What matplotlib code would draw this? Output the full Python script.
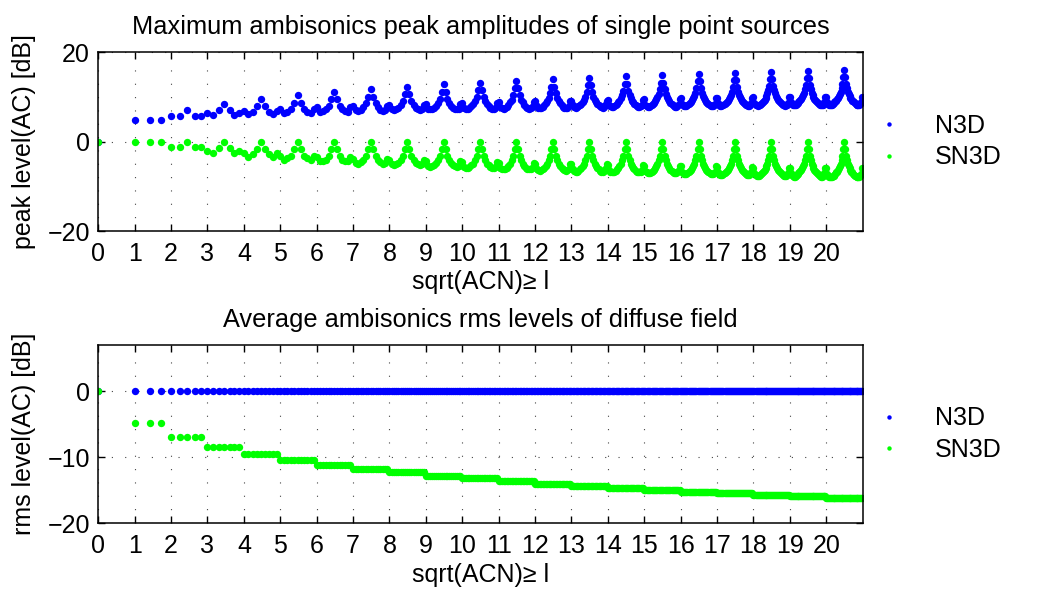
"""
Ambisonics normalisation comparison: N3D vs SN3D.

Top: maximum peak amplitude of every ACN channel for a single point source.
Bottom: average rms level of every ACN channel in a diffuse field.
"""

import numpy as np
import matplotlib
matplotlib.use("Agg")
import matplotlib.pyplot as plt

# ── data (one list per ambisonic order l) ────────────────────────────────────

CHANNELS_PER_ORDER = [1, 3, 5, 7, 9, 11, 13, 15, 17, 19, 21,
                      23, 25, 27, 29, 31, 33, 35, 37, 39, 41]

PEAK_N3D = [
    [0.0],
    [4.8, 4.8, 4.8],
    [5.7, 5.7, 7.0, 5.7, 5.7],
    [6.4, 5.9, 7.0, 8.5, 7.0, 5.9, 6.4],
    [6.9, 6.2, 6.7, 8.0, 9.5, 8.0, 6.7, 6.2, 6.9],
    [7.3, 6.5, 6.7, 7.4, 8.7, 10.4, 8.7, 7.4, 6.7, 6.5, 7.3],
    [7.7, 6.7, 6.8, 7.2, 8.0, 9.5, 11.1, 9.5, 8.0, 7.2, 6.8, 6.7, 7.7],
    [8.0, 7.0, 6.9, 7.1, 7.7, 8.6, 10.1, 11.8, 10.1, 8.6, 7.7, 7.1, 6.9, 7.0, 8.0],
    [8.3, 7.2, 7.0, 7.2, 7.5, 8.2, 9.1, 10.6, 12.3, 10.6, 9.1, 8.2, 7.5, 7.2, 7.0, 7.2, 8.3],
    [8.5, 7.4, 7.2, 7.3, 7.5, 8.0, 8.6, 9.6, 11.1, 12.8, 11.1, 9.6, 8.6, 8.0, 7.5, 7.3, 7.2, 7.4, 8.5],
    [8.7, 7.6, 7.3, 7.3, 7.5, 7.9, 8.4, 9.1, 10.0, 11.5, 13.2, 11.5, 10.0, 9.1, 8.4, 7.9, 7.5, 7.3, 7.3, 7.6, 8.7],
    [8.9, 7.8, 7.5, 7.4, 7.5, 7.8, 8.2, 8.8, 9.4, 10.4, 11.9, 13.6, 11.9, 10.4, 9.4, 8.8, 8.2, 7.8, 7.5, 7.4, 7.5, 7.8, 8.9],
    [9.1, 7.9, 7.6, 7.5, 7.6, 7.8, 8.2, 8.6, 9.1, 9.8, 10.8, 12.3, 14.0, 12.3, 10.8, 9.8, 9.1, 8.6, 8.2, 7.8, 7.6, 7.5, 7.6, 7.9, 9.1],
    [9.2, 8.1, 7.7, 7.6, 7.7, 7.9, 8.1, 8.5, 8.9, 9.4, 10.1, 11.1, 12.6, 14.3, 12.6, 11.1, 10.1, 9.4, 8.9, 8.5, 8.1, 7.9, 7.7, 7.6, 7.7, 8.1, 9.2],
    [9.4, 8.2, 7.9, 7.7, 7.7, 7.9, 8.1, 8.4, 8.8, 9.2, 9.7, 10.4, 11.4, 12.9, 14.6, 12.9, 11.4, 10.4, 9.7, 9.2, 8.8, 8.4, 8.1, 7.9, 7.7, 7.7, 7.9, 8.2, 9.4],
    [9.5, 8.3, 8.0, 7.8, 7.8, 7.9, 8.1, 8.4, 8.7, 9.0, 9.5, 10.0, 10.7, 11.7, 13.2, 14.9, 13.2, 11.7, 10.7, 10.0, 9.5, 9.0, 8.7, 8.4, 8.1, 7.9, 7.8, 7.8, 8.0, 8.3, 9.5],
    [9.7, 8.5, 8.1, 7.9, 7.9, 8.0, 8.2, 8.4, 8.6, 8.9, 9.3, 9.7, 10.3, 11.0, 12.0, 13.5, 15.2, 13.5, 12.0, 11.0, 10.3, 9.7, 9.3, 8.9, 8.6, 8.4, 8.2, 8.0, 7.9, 7.9, 8.1, 8.5, 9.7],
    [9.8, 8.6, 8.2, 8.0, 8.0, 8.1, 8.2, 8.4, 8.6, 8.8, 9.2, 9.5, 10.0, 10.5, 11.2, 12.2, 13.8, 15.4, 13.8, 12.2, 11.2, 10.5, 10.0, 9.5, 9.2, 8.8, 8.6, 8.4, 8.2, 8.1, 8.0, 8.0, 8.2, 8.6, 9.8],
    [9.9, 8.7, 8.3, 8.1, 8.0, 8.1, 8.2, 8.4, 8.6, 8.8, 9.1, 9.4, 9.8, 10.2, 10.8, 11.5, 12.4, 14.0, 15.7, 14.0, 12.4, 11.5, 10.8, 10.2, 9.8, 9.4, 9.1, 8.8, 8.6, 8.4, 8.2, 8.1, 8.0, 8.1, 8.3, 8.7, 9.9],
    [10.0, 8.8, 8.4, 8.2, 8.1, 8.2, 8.3, 8.4, 8.6, 8.8, 9.0, 9.3, 9.6, 10.0, 10.4, 11.0, 11.7, 12.7, 14.2, 15.9, 14.2, 12.7, 11.7, 11.0, 10.4, 10.0, 9.6, 9.3, 9.0, 8.8, 8.6, 8.4, 8.3, 8.2, 8.1, 8.2, 8.4, 8.8, 10.0],
    [10.1, 8.9, 8.5, 8.3, 8.2, 8.2, 8.3, 8.4, 8.6, 8.8, 9.0, 9.2, 9.5, 9.8, 10.2, 10.6, 11.2, 11.9, 12.9, 14.4, 16.1, 14.4, 12.9, 11.9, 11.2, 10.6, 10.2, 9.8, 9.5, 9.2, 9.0, 8.8, 8.6, 8.4, 8.3, 8.2, 8.2, 8.3, 8.5, 8.9, 10.1],
]

PEAK_SN3D = [
    [0.0],
    [0.0, 0.0, 0.0],
    [-1.2, -1.2, 0.0, -1.2, -1.2],
    [-2.0, -2.6, -1.4, 0.0, -1.4, -2.6, -2.0],
    [-2.6, -3.4, -2.8, -1.6, 0.0, -1.6, -2.8, -3.4, -2.6],
    [-3.1, -4.0, -3.7, -3.1, -1.7, 0.0, -1.7, -3.1, -3.7, -4.0, -3.1],
    [-3.5, -4.4, -4.4, -4.0, -3.2, -1.7, 0.0, -1.7, -3.2, -4.0, -4.4, -4.4, -3.5],
    [-3.8, -4.8, -4.9, -4.6, -4.1, -3.2, -1.7, 0.0, -1.7, -3.2, -4.1, -4.6, -4.9, -4.8, -3.8],
    [-4.1, -5.1, -5.3, -5.1, -4.8, -4.1, -3.2, -1.7, 0.0, -1.7, -3.2, -4.1, -4.8, -5.1, -5.3, -5.1, -4.1],
    [-4.3, -5.4, -5.6, -5.5, -5.3, -4.8, -4.2, -3.2, -1.7, 0.0, -1.7, -3.2, -4.2, -4.8, -5.3, -5.5, -5.6, -5.4, -4.3],
    [-4.5, -5.6, -5.9, -5.9, -5.7, -5.3, -4.9, -4.2, -3.2, -1.7, 0.0, -1.7, -3.2, -4.2, -4.9, -5.3, -5.7, -5.9, -5.9, -5.6, -4.5],
    [-4.7, -5.9, -6.1, -6.2, -6.1, -5.8, -5.4, -4.9, -4.2, -3.2, -1.7, 0.0, -1.7, -3.2, -4.2, -4.9, -5.4, -5.8, -6.1, -6.2, -6.1, -5.9, -4.7],
    [-4.9, -6.1, -6.4, -6.5, -6.4, -6.1, -5.8, -5.4, -4.9, -4.2, -3.2, -1.7, 0.0, -1.7, -3.2, -4.2, -4.9, -5.4, -5.8, -6.1, -6.4, -6.5, -6.4, -6.1, -4.9],
    [-5.1, -6.2, -6.6, -6.7, -6.7, -6.5, -6.2, -5.9, -5.4, -4.9, -4.2, -3.2, -1.7, 0.0, -1.7, -3.2, -4.2, -4.9, -5.4, -5.9, -6.2, -6.5, -6.7, -6.7, -6.6, -6.2, -5.1],
    [-5.2, -6.4, -6.8, -6.9, -6.9, -6.7, -6.5, -6.2, -5.9, -5.4, -4.9, -4.2, -3.2, -1.7, 0.0, -1.7, -3.2, -4.2, -4.9, -5.4, -5.9, -6.2, -6.5, -6.7, -6.9, -6.9, -6.8, -6.4, -5.2],
    [-5.4, -6.6, -6.9, -7.1, -7.1, -7.0, -6.8, -6.6, -6.3, -5.9, -5.5, -4.9, -4.2, -3.2, -1.7, 0.0, -1.7, -3.2, -4.2, -4.9, -5.5, -5.9, -6.3, -6.6, -6.8, -7.0, -7.1, -7.1, -6.9, -6.6, -5.4],
    [-5.5, -6.7, -7.1, -7.3, -7.3, -7.2, -7.0, -6.8, -6.6, -6.3, -5.9, -5.5, -4.9, -4.2, -3.2, -1.7, 0.0, -1.7, -3.2, -4.2, -4.9, -5.5, -5.9, -6.3, -6.6, -6.8, -7.0, -7.2, -7.3, -7.3, -7.1, -6.7, -5.5],
    [-5.7, -6.9, -7.3, -7.4, -7.5, -7.4, -7.3, -7.1, -6.9, -6.6, -6.3, -5.9, -5.5, -4.9, -4.2, -3.2, -1.7, 0.0, -1.7, -3.2, -4.2, -4.9, -5.5, -5.9, -6.3, -6.6, -6.9, -7.1, -7.3, -7.4, -7.5, -7.4, -7.3, -6.9, -5.7],
    [-5.8, -7.0, -7.4, -7.6, -7.7, -7.6, -7.5, -7.3, -7.1, -6.9, -6.6, -6.3, -5.9, -5.5, -4.9, -4.2, -3.2, -1.7, 0.0, -1.7, -3.2, -4.2, -4.9, -5.5, -5.9, -6.3, -6.6, -6.9, -7.1, -7.3, -7.5, -7.6, -7.7, -7.6, -7.4, -7.0, -5.8],
    [-5.9, -7.1, -7.5, -7.7, -7.8, -7.8, -7.7, -7.5, -7.3, -7.1, -6.9, -6.6, -6.3, -5.9, -5.5, -4.9, -4.2, -3.2, -1.7, 0.0, -1.7, -3.2, -4.2, -4.9, -5.5, -5.9, -6.3, -6.6, -6.9, -7.1, -7.3, -7.5, -7.7, -7.8, -7.8, -7.7, -7.5, -7.1, -5.9],
    [-6.0, -7.2, -7.7, -7.9, -8.0, -7.9, -7.8, -7.7, -7.6, -7.4, -7.2, -6.9, -6.7, -6.3, -6.0, -5.5, -4.9, -4.2, -3.2, -1.7, 0.0, -1.7, -3.2, -4.2, -4.9, -5.5, -6.0, -6.3, -6.7, -6.9, -7.2, -7.4, -7.6, -7.7, -7.8, -7.9, -8.0, -7.9, -7.7, -7.2, -6.0],
]

# diffuse-field rms level, constant within an order
RMS_N3D_PER_ORDER = [0.0] * 21
RMS_SN3D_PER_ORDER = [0.0, -4.8, -7.0, -8.5, -9.5, -10.4, -11.1, -11.8, -12.3, -12.8,
                      -13.2, -13.6, -14.0, -14.3, -14.6, -14.9, -15.2, -15.4, -15.7,
                      -15.9, -16.1]

for rows in (PEAK_N3D, PEAK_SN3D):
    assert [len(r) for r in rows] == CHANNELS_PER_ORDER

# ── helpers ───────────────────────────────────────────────────────────────────

BLUE = (0, 0, 1)
GREEN = (0, 1, 0)
FONT = 18

plt.rcParams["font.family"] = ["Liberation Sans", "DejaVu Sans"]
plt.rcParams["font.size"] = FONT

n_acn = sum(CHANNELS_PER_ORDER)
x = np.sqrt(np.arange(n_acn))


def style_axes(ax, yticks, ylim):
    ax.set_xlim(0, 21)
    ax.set_ylim(*ylim)
    ax.set_xticks(range(0, 21))
    ax.set_yticks(yticks)
    ax.tick_params(direction="in", top=True, right=True, length=5,
                   width=1.0, labelsize=FONT)
    ax.tick_params(axis="x", pad=8)
    ax.tick_params(axis="y", pad=6)
    ax.grid(True, color="#444444", linestyle=(0, (1, 11)), linewidth=0.8)
    for s in ax.spines.values():
        s.set_linewidth(1.1)
    ax.set_xlabel("sqrt(ACN)\u2265 l", fontsize=FONT, labelpad=3)
    ax.legend(loc="center left", bbox_to_anchor=(1.0, 0.5), frameon=False,
              fontsize=FONT, handlelength=0.5, handletextpad=1.6,
              borderaxespad=0.4, borderpad=0.4, labelspacing=0.3,
              markerscale=0.6)


def plot_pair(ax, n3d, sn3d):
    ax.plot(x, n3d, linestyle="none", marker="o", ms=5.3, mew=0,
            color=BLUE, label="N3D")
    ax.plot(x, sn3d, linestyle="none", marker="o", ms=5.3, mew=0,
            color=GREEN, label="SN3D")


# ── figure ────────────────────────────────────────────────────────────────────

fig = plt.figure(figsize=(10.39, 5.91), dpi=100)
ax_top = fig.add_axes([0.0946, 0.6091, 0.7357, 0.3024])
ax_bot = fig.add_axes([0.0946, 0.1145, 0.7357, 0.3017])

plot_pair(ax_top, np.concatenate(PEAK_N3D), np.concatenate(PEAK_SN3D))
style_axes(ax_top, [-20, 0, 20], (-20, 20))
ax_top.set_ylabel("peak level(AC) [dB]", fontsize=FONT, labelpad=8)
ax_top.set_title("Maximum ambisonics peak amplitudes of single point sources",
                 fontsize=FONT + 0.3, pad=13)

plot_pair(ax_bot,
          np.repeat(RMS_N3D_PER_ORDER, CHANNELS_PER_ORDER),
          np.repeat(RMS_SN3D_PER_ORDER, CHANNELS_PER_ORDER))
style_axes(ax_bot, [-20, -10, 0], (-20, 7))
ax_bot.set_ylabel("rms level(AC) [dB]", fontsize=FONT, labelpad=8)
ax_bot.set_title("Average ambisonics rms levels of diffuse field",
                 fontsize=FONT + 0.3, pad=13)

fig.savefig("out.png", dpi=100)
